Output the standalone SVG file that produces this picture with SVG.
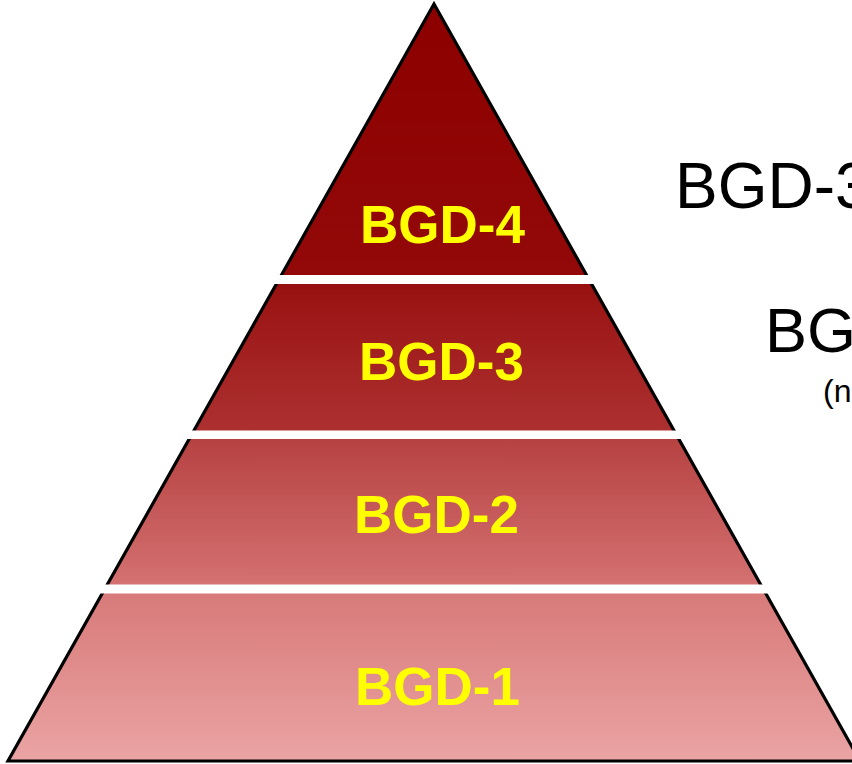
<svg xmlns="http://www.w3.org/2000/svg" width="852" height="764" viewBox="0 0 852 764">
  <style>
    .lvl { font-family: "Liberation Sans", Arial, sans-serif; font-weight: bold; font-size: 53px; fill: #ffff00; }
    .side { font-family: "Liberation Sans", Arial, sans-serif; fill: #000000; }
    .gap { fill: #ffffff; }
  </style>
  <defs>
    <linearGradient id="pyr" gradientUnits="userSpaceOnUse" x1="0" y1="4" x2="0" y2="762">
      <stop offset="0" stop-color="#8c0000"/>
      <stop offset="0.357" stop-color="#930808"/>
      <stop offset="0.38" stop-color="#9a1313"/>
      <stop offset="0.562" stop-color="#ad3030"/>
      <stop offset="0.575" stop-color="#b74242"/>
      <stop offset="0.766" stop-color="#d47171"/>
      <stop offset="0.78" stop-color="#d87a7a"/>
      <stop offset="1" stop-color="#eba4a4"/>
    </linearGradient>
  </defs>
  <rect width="852" height="764" fill="#ffffff"/>
  <g id="pyramid">
    <polygon points="434,4 8,761 860,761" fill="url(#pyr)" stroke="#000000" stroke-width="3.2" stroke-linejoin="miter"/>
    <rect class="gap" x="0" y="275" width="852" height="9"/>
    <rect class="gap" x="0" y="430.5" width="852" height="8.5"/>
    <rect class="gap" x="0" y="584.5" width="852" height="9"/>
  </g>
  <g id="bgd4"><text class="lvl" x="360" y="243">BGD-4</text></g>
  <g id="bgd3"><text class="lvl" x="359" y="380">BGD-3</text></g>
  <g id="bgd2"><text class="lvl" x="354" y="533">BGD-2</text></g>
  <g id="bgd1"><text class="lvl" x="355" y="705">BGD-1</text></g>
  <g id="side-labels">
    <text class="side" x="675" y="208" font-size="64">BGD-3</text>
    <text class="side" x="765" y="352" font-size="63">BG</text>
    <text class="side" x="823" y="402" font-size="32">(n</text>
  </g>
</svg>
